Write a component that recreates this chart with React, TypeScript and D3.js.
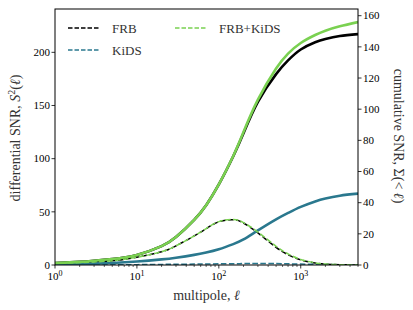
import React, { useEffect } from "react";
import * as d3 from "d3";

const ELL = [1, 2, 3, 5, 10, 20, 30, 50, 70, 100, 150, 200, 300, 500, 700, 1000, 1500, 2000, 3000, 5000];

// cumulative SNR (right axis)
const FRB_CUM = [1.2, 2.0, 2.7, 3.8, 6.4, 12.1, 17.9, 29, 38.4, 51.7, 69.8, 84.5, 104.7, 122.5, 131.3, 138.3, 143.0, 145.1, 147.0, 148.2];
const KIDS_CUM = [0.3, 0.6, 0.9, 1.3, 2.2, 3.6, 4.7, 6.5, 8.0, 10.1, 13.4, 16.4, 22.2, 29.3, 33.4, 37.3, 40.8, 42.7, 44.5, 45.8];
const COMB_CUM = [1.2, 2.0, 2.7, 3.8, 6.4, 12.1, 17.9, 29, 38.4, 51.8, 70, 85.3, 106.1, 126.1, 135.7, 142.5, 147.6, 150.4, 153.2, 155.9];

// differential SNR (left axis)
const FRB_DIFF = [1.6, 2.3, 2.9, 4.0, 7.3, 12.5, 18, 27.3, 34.1, 40.6, 42.5, 39.5, 30.2, 16.6, 9.7, 4.8, 1.8, 0.8, 0.25, 0.03];
const KIDS_DIFF = [0.05, 0.1, 0.15, 0.2, 0.35, 0.55, 0.7, 0.85, 1.0, 1.1, 1.25, 1.3, 1.35, 1.3, 1.1, 0.9, 0.6, 0.45, 0.25, 0.1];
const COMB_DIFF = [1.6, 2.3, 2.9, 4.0, 7.3, 12.5, 18, 27.3, 34.2, 40.8, 42.8, 39.9, 31, 17.6, 10.4, 5.2, 2.0, 0.9, 0.27, 0.04];

const LEFT_TICKS = [0, 50, 100, 150, 200];
const RIGHT_TICKS = [0, 20, 40, 60, 80, 100, 120, 140, 160];
const X_TICKS = [1, 10, 100, 1000];

const BLACK = "#000000";
const TEAL = "#2a788e";
const GREEN = "#7ad151";

const W = 413;
const H = 310;
const m = { left: 55, right: 358, top: 9, bottom: 265 };
const FONT = "'Liberation Serif', 'DejaVu Serif', serif";

export default function App() {
  useEffect(() => {
    document.body.style.margin = "0";
  }, []);

  const x = d3.scaleLog().domain([1, 5000]).range([m.left, m.right]);
  const yL = d3.scaleLinear().domain([0, 240.75]).range([m.bottom, m.top]);
  const yR = d3.scaleLinear().domain([0, 164.3]).range([m.bottom, m.top]);

  const lineFor = (scale: d3.ScaleLinear<number, number>, vals: number[]) =>
    d3
      .line<number>()
      .x((_, i) => x(ELL[i]))
      .y((v) => scale(v))
      .curve(d3.curveNatural)(vals) || "";

  // minor ticks on the log axis
  const minor: number[] = [];
  for (let p = 0; p < 4; p++) {
    for (let k = 2; k <= 9; k++) {
      const v = k * Math.pow(10, p);
      if (v <= 5000) minor.push(v);
    }
  }

  const dash = "5.5,2.4";

  return (
    <svg width={W} height={H} style={{ display: "block", background: "#fff" }} fontFamily={FONT}>
      <defs>
        <clipPath id="plot">
          <rect x={m.left} y={m.top} width={m.right - m.left} height={m.bottom - m.top} />
        </clipPath>
      </defs>

      <g clipPath="url(#plot)" fill="none">
        <path d={lineFor(yR, FRB_CUM)} stroke={BLACK} strokeWidth={2.6} />
        <path d={lineFor(yL, FRB_DIFF)} stroke={BLACK} strokeWidth={1.5} strokeDasharray={dash} />
        <path d={lineFor(yR, KIDS_CUM)} stroke={TEAL} strokeWidth={2.6} />
        <path d={lineFor(yL, KIDS_DIFF)} stroke={TEAL} strokeWidth={1.5} strokeDasharray={dash} />
        <path d={lineFor(yR, COMB_CUM)} stroke={GREEN} strokeWidth={2.6} />
        <path d={lineFor(yL, COMB_DIFF)} stroke={GREEN} strokeWidth={1.5} strokeDasharray={dash} strokeDashoffset={3} />
      </g>

      {/* frame */}
      <rect x={m.left} y={m.top} width={m.right - m.left} height={m.bottom - m.top} fill="none" stroke="#000" strokeWidth={1} />

      {/* x ticks */}
      {X_TICKS.map((t) => (
        <g key={"x" + t}>
          <line x1={x(t)} x2={x(t)} y1={m.bottom} y2={m.bottom + 3.5} stroke="#000" strokeWidth={0.8} />
          <text x={x(t)} y={m.bottom + 15} fontSize={11} textAnchor="middle">
            10<tspan fontSize={8} dy={-4.5}>{Math.round(Math.log10(t))}</tspan>
          </text>
        </g>
      ))}
      {minor.map((t) => (
        <line key={"mn" + t} x1={x(t)} x2={x(t)} y1={m.bottom} y2={m.bottom + 2} stroke="#000" strokeWidth={0.6} />
      ))}

      {/* left ticks */}
      {LEFT_TICKS.map((t) => (
        <g key={"l" + t}>
          <line x1={m.left - 3.5} x2={m.left} y1={yL(t)} y2={yL(t)} stroke="#000" strokeWidth={0.8} />
          <text x={m.left - 5} y={yL(t) + 3.8} fontSize={11} textAnchor="end">{t}</text>
        </g>
      ))}

      {/* right ticks */}
      {RIGHT_TICKS.map((t) => (
        <g key={"r" + t}>
          <line x1={m.right} x2={m.right + 3.5} y1={yR(t)} y2={yR(t)} stroke="#000" strokeWidth={0.8} />
          <text x={m.right + 5} y={yR(t) + 3.8} fontSize={11} textAnchor="start">{t}</text>
        </g>
      ))}

      {/* axis labels */}
      <text x={(m.left + m.right) / 2} y={300} fontSize={14} textAnchor="middle" fill="#333">
        multipole, <tspan fontStyle="italic">ℓ</tspan>
      </text>
      <text transform={`translate(20,138) rotate(-90)`} fontSize={14} textAnchor="middle" fill="#333">
        differential SNR, <tspan fontStyle="italic">S</tspan>
        <tspan fontSize={10} dy={-5}>2</tspan>
        <tspan dy={5}>(</tspan>
        <tspan fontStyle="italic">ℓ</tspan>)
      </text>
      <text transform={`translate(394,136) rotate(90)`} fontSize={14} textAnchor="middle" fill="#333">
        cumulative SNR, Σ(&lt; <tspan fontStyle="italic">ℓ</tspan>)
      </text>

      {/* legend */}
      {[
        { label: "FRB", color: BLACK, lx: 68, ly: 28 },
        { label: "KiDS", color: TEAL, lx: 68, ly: 50 },
        { label: "FRB+KiDS", color: GREEN, lx: 175, ly: 28 },
      ].map((d) => (
        <g key={d.label}>
          <line x1={d.lx} x2={d.lx + 31} y1={d.ly} y2={d.ly} stroke={d.color} strokeWidth={1.5} strokeDasharray="4.5,2" />
          <text x={d.lx + 44} y={d.ly + 5} fontSize={13} fill="#333">{d.label}</text>
        </g>
      ))}
    </svg>
  );
}
